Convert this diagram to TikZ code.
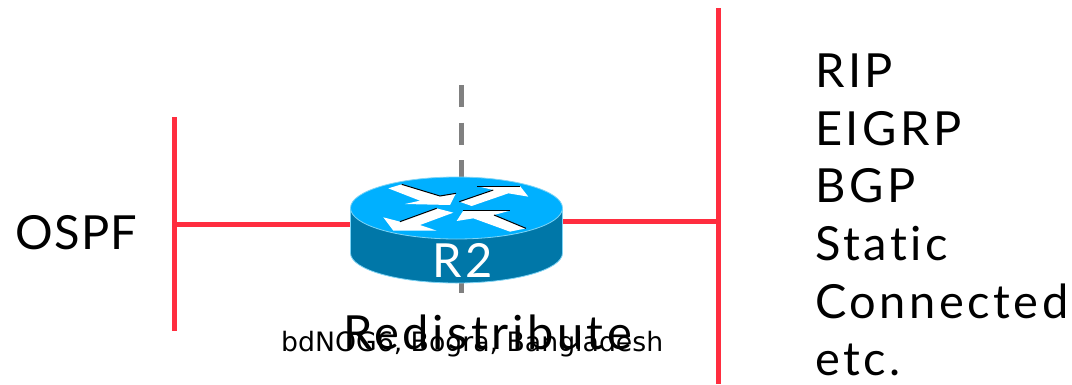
\documentclass[tikz,border=0pt]{standalone}
\usepackage{fontspec}
\setmainfont{DejaVu Sans}
\newfontfamily\bigfam[LetterSpace=7.5,Ligatures={NoCommon,NoRare}]{Lato}
\newfontfamily\ospffam[LetterSpace=3]{Lato}
\tikzset{
 redline/.style={draw=linkred,line width=5.5pt},
 lbl/.style={inner sep=0pt,anchor=base west,text=black},
 biglbl/.style={lbl,font=\bigfam\fontsize{47}{47}\selectfont},
 ospflbl/.style={lbl,font=\ospffam\fontsize{47}{47}\selectfont},
 arrowshape/.style={fill=white,draw=none},
 arrowedge/.style={draw=black,line width=1pt},
}
\definecolor{linkred}{HTML}{FF2D3F}
\definecolor{topblue}{HTML}{00B0FF}
\definecolor{sideblue}{HTML}{0077A8}
\definecolor{rimblue}{HTML}{7FD4F5}
\definecolor{dashgray}{HTML}{808080}
\begin{document}
\begin{tikzpicture}[x=1pt,y=-1pt]
\useasboundingbox (0,0) rectangle (1072,384);
\coordinate (lt) at (174.5,117);
\coordinate (lb) at (174.5,331);
\coordinate (lj) at (174.5,224.5);
\coordinate (rt) at (718.5,8);
\coordinate (rb) at (718.5,384);
\coordinate (rj) at (718.5,221.5);
\coordinate (dt) at (461.5,85);
\coordinate (db) at (461.5,293);
\coordinate (rl) at (352,224.5);
\coordinate (rr) at (562,221.5);
\draw[dashgray,line width=5.3pt,dash pattern=on 22pt off 15.6pt] (dt) -- (db);
\draw[redline] (lt) -- (lb);
\draw[redline] (rt) -- (rb);
\draw[redline] (lj) -- (rl);
\draw[redline] (rr) -- (rj);
% router
\path[fill=sideblue,draw=rimblue,line width=.8pt] (350.5,208) -- (350.5,253) arc[start angle=180,end angle=0,x radius=106,y radius=30] -- (562.5,208) -- cycle;
\path[fill=topblue,draw=rimblue,line width=.8pt] (456.5,208) ellipse[x radius=106,y radius=31];
\begin{scope}[shift={(340,160)},x=.3333pt,y=-.3333pt]
\path[arrowshape] (145,85)--(185,73)--(300,108)--(348,100)--(330,135)--(195,132)--(240,122)--cycle;
\draw[arrowedge] (185,73)--(300,108)--(348,100);
\path[arrowshape] (358,125)--(460,90)--(410,78)--(540,78)--(565,110)--(505,100)--(395,138)--cycle;
\draw[arrowedge] (358,125)--(460,90);
\draw[arrowedge] (410,78)--(540,78);
\path[arrowshape] (130,172)--(180,185)--(290,145)--(340,158)--(240,195)--(290,212)--(160,212)--cycle;
\draw[arrowedge] (180,185)--(290,145);
\path[arrowshape] (350,183)--(370,152)--(510,152)--(462,165)--(558,205)--(510,215)--(400,175)--cycle;
\draw[arrowedge] (370,152)--(510,152);
\draw[arrowedge] (462,165)--(558,205);
\end{scope}
\node[biglbl,text=white] (r2) at (432,277) {R2};
\node[ospflbl] (ospf) at (15,249) {OSPF};
\foreach \n/\t/\y in {a/RIP/87,b/EIGRP/145,c/BGP/202,d/Static/260,e/Connected/318,f/etc./375}
  \node[biglbl] (\n) at (815,\y) {\t};
\node[biglbl] (red) at (343,349) {Redistribute};
\node[lbl,font=\fontsize{26.7}{27}\selectfont] (foot) at (281,351) {bdNOG6, Bogra, Bangladesh};
\end{tikzpicture}
\end{document}
